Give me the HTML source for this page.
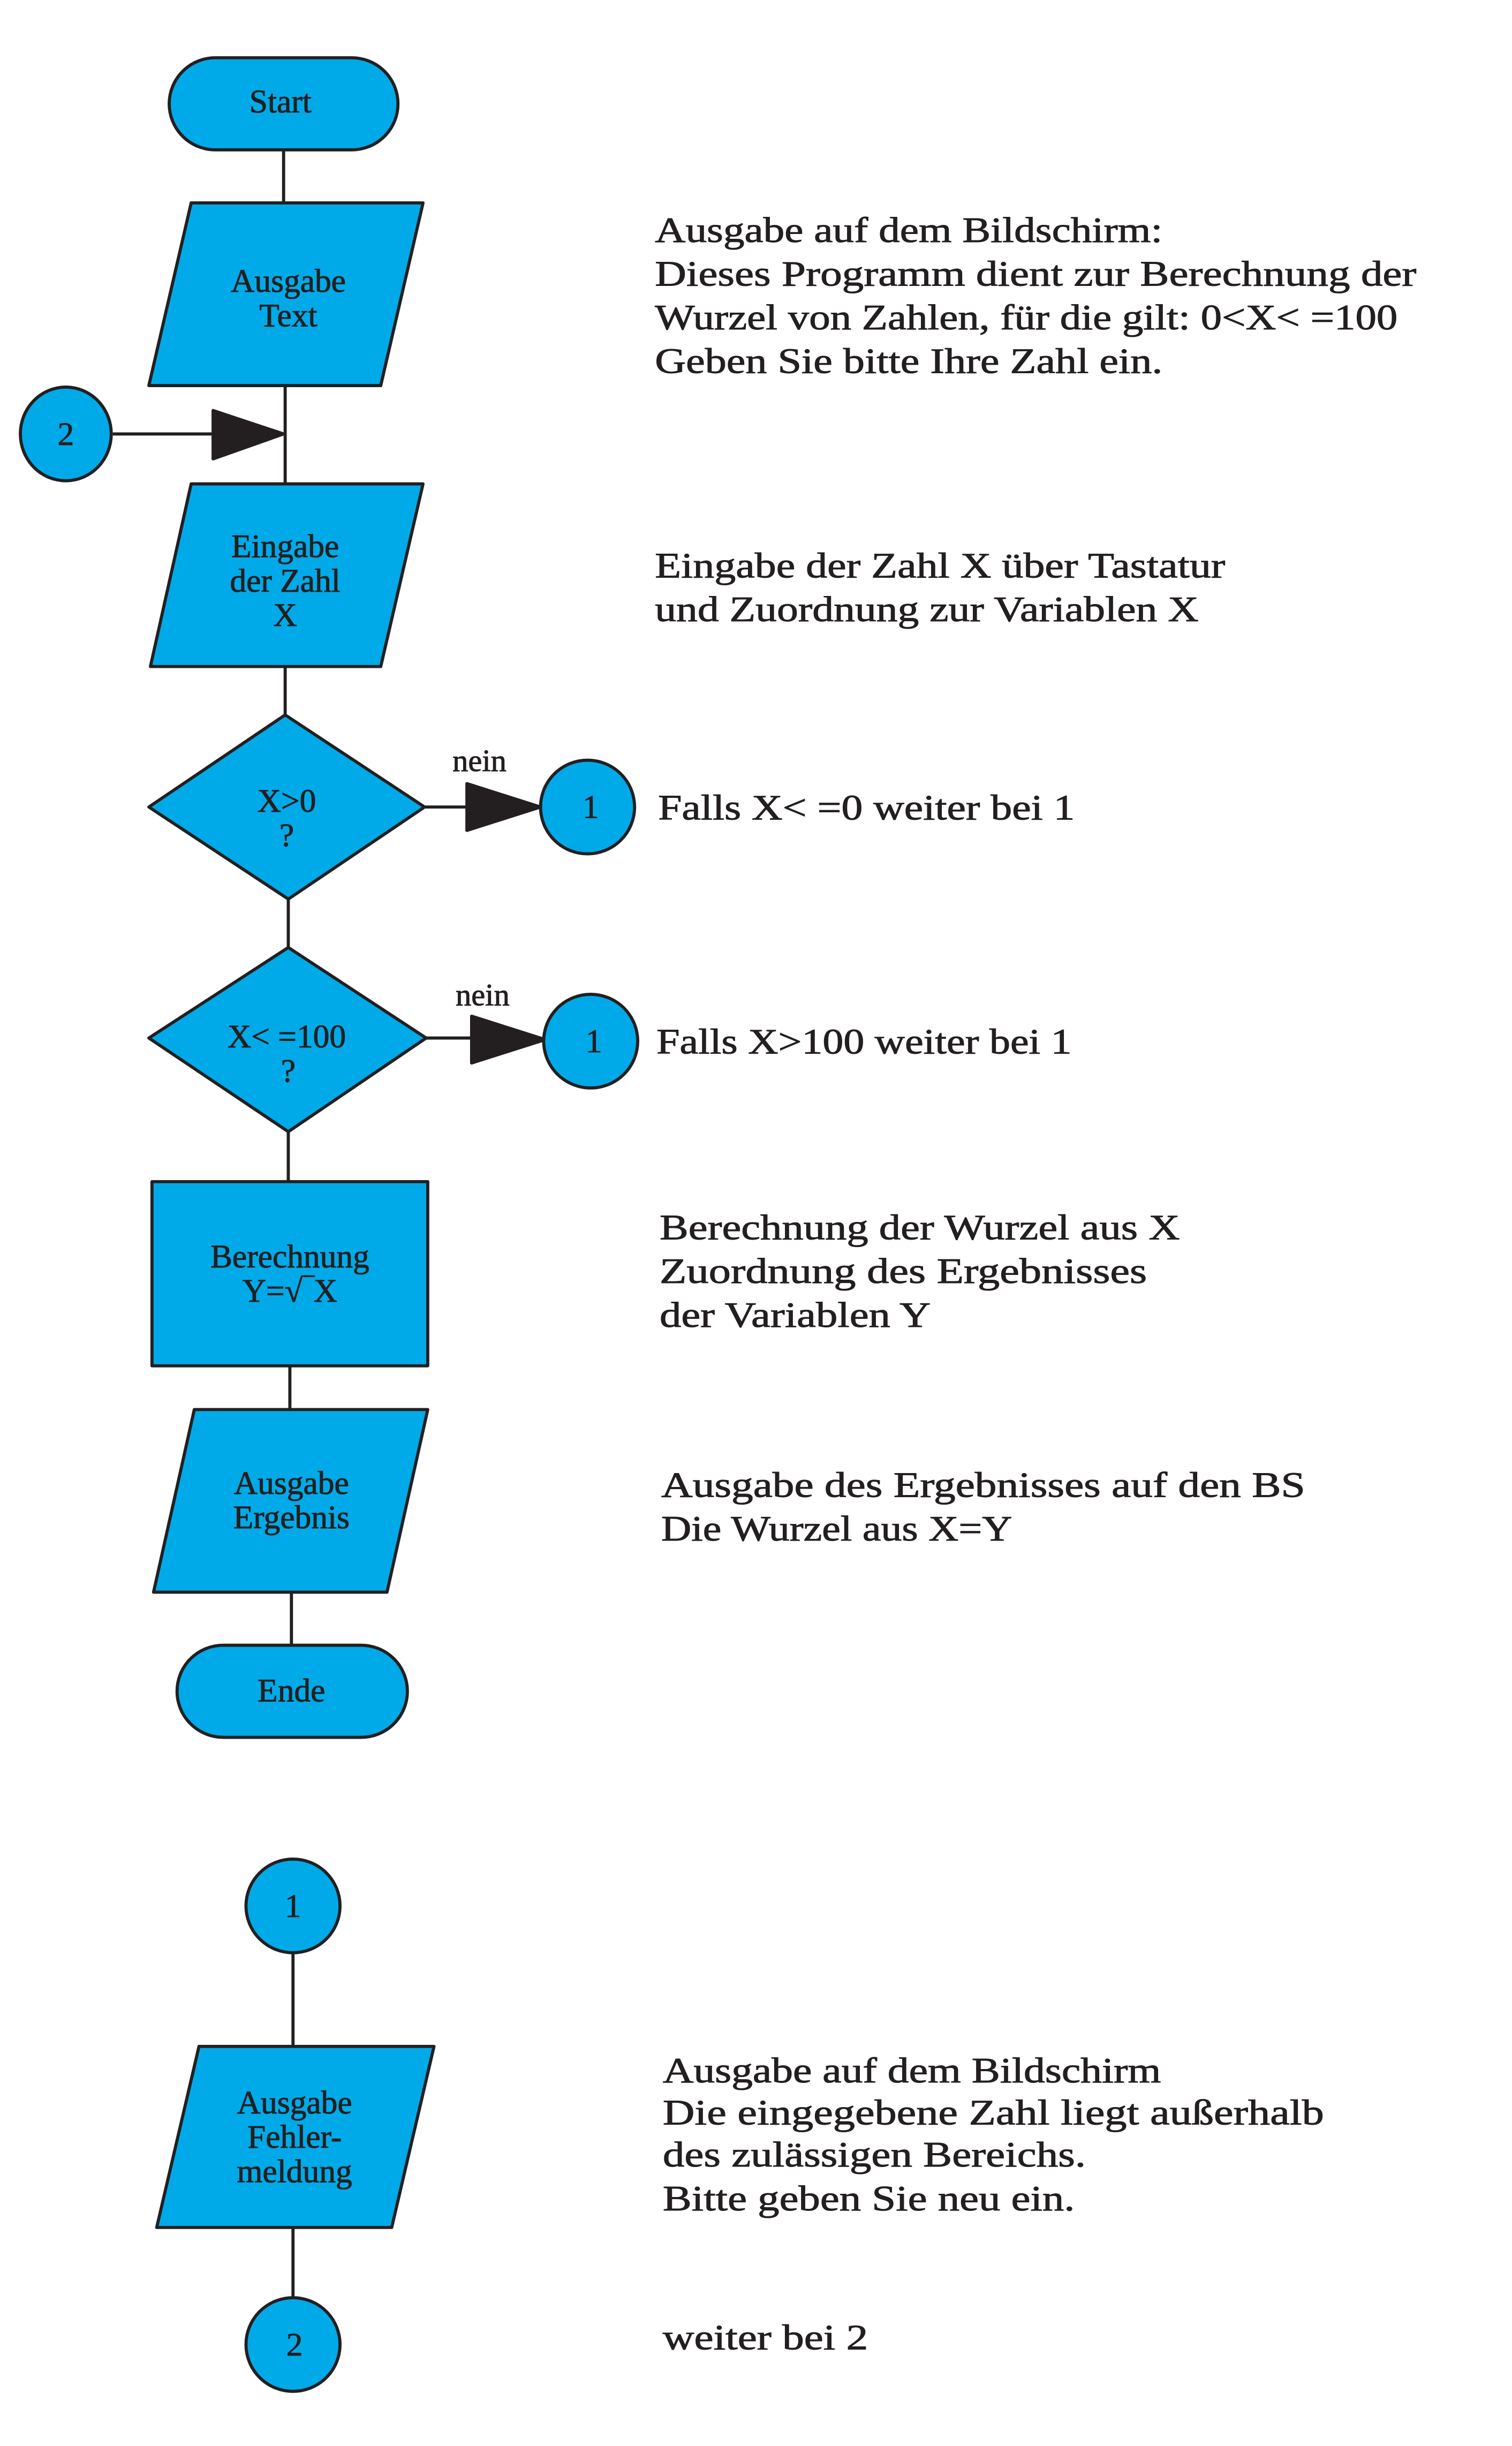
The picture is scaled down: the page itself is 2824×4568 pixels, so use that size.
<!DOCTYPE html>
<html><head><meta charset="utf-8"><style>
html,body{margin:0;padding:0;background:#fff;}
svg{display:block;}
text{font-family:"Liberation Serif",serif;fill:#231f20;stroke:#231f20;stroke-width:0.35px;}
.n{font-size:21px;text-anchor:middle;}
.r{font-size:23px;}
</style></head><body>
<svg width="2824" height="4568" viewBox="0 0 965 1567" preserveAspectRatio="none" xmlns="http://www.w3.org/2000/svg">
<g stroke="#231f20" stroke-width="2" fill="#00aae8" stroke-linejoin="round">
<path d="M181 96V130M182 247V310M182 427V458M184 576V607M184 725V757M185 875V903M186 1020V1054M187 1251V1311M187 1427V1473" fill="none"/>
<path d="M72 278H181M271 517H300M272 665H302" fill="none"/>
<path d="M136 263L181 278L136 294Z" fill="#231f20"/>
<path d="M298 502L345 517L298 532Z" fill="#231f20"/>
<path d="M301 651L348 666L301 681Z" fill="#231f20"/>
<rect x="108" y="37" width="146" height="59" rx="29.5"/>
<path d="M122 130H270L243 247H95Z"/>
<ellipse cx="42" cy="278" rx="29" ry="30"/>
<path d="M122 310H270L243 427H96Z"/>
<path d="M182 458L271 517L184 576L95 517Z"/>
<ellipse cx="375" cy="517" rx="30" ry="30"/>
<path d="M184 607L272 665L184 725L95 665Z"/>
<ellipse cx="377" cy="667" rx="30" ry="30"/>
<rect x="97" y="757" width="176" height="118"/>
<path d="M124 903H273L247 1020H98Z"/>
<rect x="113" y="1054" width="147" height="59" rx="29.5"/>
<ellipse cx="187" cy="1221" rx="30" ry="30"/>
<path d="M127 1311H277L250 1427H100Z"/>
<ellipse cx="187" cy="1502" rx="30" ry="30"/>
</g>
<text class="n" x="179" y="72">Start</text>
<text class="n" x="184" y="187">Ausgabe</text>
<text class="n" x="184" y="209">Text</text>
<text class="n" x="42" y="285">2</text>
<text class="n" x="182" y="357">Eingabe</text>
<text class="n" x="182" y="379">der Zahl</text>
<text class="n" x="182" y="401">X</text>
<text class="n" x="183" y="520">X&gt;0</text>
<text class="n" x="183" y="542">?</text>
<text class="n" x="306" y="494" style="font-size:20px">nein</text>
<text class="n" x="377" y="524">1</text>
<text class="n" x="183" y="671">X&lt; =100</text>
<text class="n" x="184" y="693">?</text>
<text class="n" x="308" y="644" style="font-size:20px">nein</text>
<text class="n" x="379" y="674">1</text>
<text class="n" x="185" y="812">Berechnung</text>
<text class="n" x="185" y="834">Y=√‾X</text>
<text class="n" x="186" y="957">Ausgabe</text>
<text class="n" x="186" y="979">Ergebnis</text>
<text class="n" x="186" y="1090">Ende</text>
<text class="n" x="187" y="1228">1</text>
<text class="n" x="188" y="1354">Ausgabe</text>
<text class="n" x="188" y="1376">Fehler-</text>
<text class="n" x="188" y="1398">meldung</text>
<text class="n" x="188" y="1509">2</text>
<text class="r" x="418" y="155" textLength="324" lengthAdjust="spacingAndGlyphs">Ausgabe auf dem Bildschirm:</text>
<text class="r" x="418" y="183" textLength="486" lengthAdjust="spacingAndGlyphs">Dieses Programm dient zur Berechnung der</text>
<text class="r" x="418" y="211" textLength="474" lengthAdjust="spacingAndGlyphs">Wurzel von Zahlen, für die gilt: 0&lt;X&lt; =100</text>
<text class="r" x="418" y="239" textLength="324" lengthAdjust="spacingAndGlyphs">Geben Sie bitte Ihre Zahl ein.</text>
<text class="r" x="418" y="370" textLength="364" lengthAdjust="spacingAndGlyphs">Eingabe der Zahl X über Tastatur</text>
<text class="r" x="418" y="398" textLength="347" lengthAdjust="spacingAndGlyphs">und Zuordnung zur Variablen X</text>
<text class="r" x="420" y="525" textLength="266" lengthAdjust="spacingAndGlyphs">Falls X&lt; =0 weiter bei 1</text>
<text class="r" x="419" y="675" textLength="265" lengthAdjust="spacingAndGlyphs">Falls X&gt;100 weiter bei 1</text>
<text class="r" x="421" y="794" textLength="332" lengthAdjust="spacingAndGlyphs">Berechnung der Wurzel aus X</text>
<text class="r" x="421" y="822" textLength="311" lengthAdjust="spacingAndGlyphs">Zuordnung des Ergebnisses</text>
<text class="r" x="421" y="850" textLength="173" lengthAdjust="spacingAndGlyphs">der Variablen Y</text>
<text class="r" x="422" y="959" textLength="411" lengthAdjust="spacingAndGlyphs">Ausgabe des Ergebnisses auf den BS</text>
<text class="r" x="422" y="987" textLength="224" lengthAdjust="spacingAndGlyphs">Die Wurzel aus X=Y</text>
<text class="r" x="423" y="1334" textLength="318" lengthAdjust="spacingAndGlyphs">Ausgabe auf dem Bildschirm</text>
<text class="r" x="423" y="1361" textLength="422" lengthAdjust="spacingAndGlyphs">Die eingegebene Zahl liegt außerhalb</text>
<text class="r" x="423" y="1388" textLength="270" lengthAdjust="spacingAndGlyphs">des zulässigen Bereichs.</text>
<text class="r" x="423" y="1416" textLength="263" lengthAdjust="spacingAndGlyphs">Bitte geben Sie neu ein.</text>
<text class="r" x="423" y="1505" textLength="131" lengthAdjust="spacingAndGlyphs">weiter bei 2</text>
</svg>
</body></html>
